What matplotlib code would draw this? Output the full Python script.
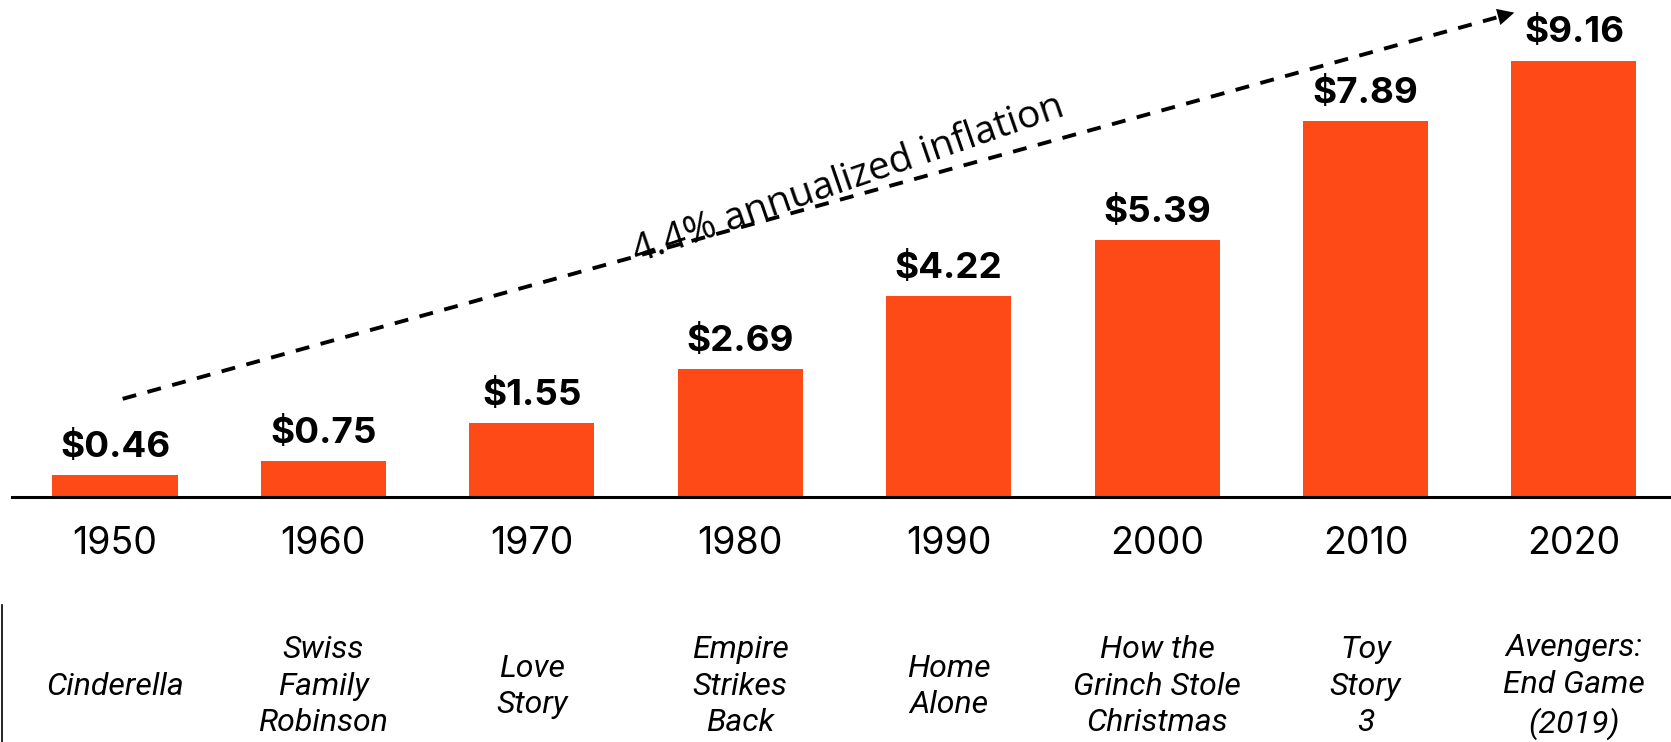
import matplotlib.pyplot as plt
from matplotlib.lines import Line2D

# Data
years = ["1950", "1960", "1970", "1980", "1990", "2000", "2010", "2020"]
prices = [0.46, 0.75, 1.55, 2.69, 4.22, 5.39, 7.89, 9.16]
movies = [
    "Cinderella",
    "Swiss\nFamily\nRobinson",
    "Love\nStory",
    "Empire\nStrikes\nBack",
    "Home\nAlone",
    "How the\nGrinch Stole\nChristmas",
    "Toy\nStory\n3",
    "Avengers:\nEnd Game\n(2019)",
]
trend_label = "4.4% annualized inflation"

bar_color = "#FD4A16"
font = "Inter"

fig = plt.figure(figsize=(16.71, 7.42), dpi=100)
ax = fig.add_axes([0.0072, 0.3302, 0.9928, 0.6698])

x = list(range(len(years)))
ax.bar(x, prices, width=0.6, color=bar_color, zorder=2)

# value labels on top of bars
for xi, p in zip(x, prices):
    ax.annotate(f"${p:.2f}", xy=(xi, p), xytext=(0, 13), textcoords="offset points",
                ha="center", va="baseline", fontsize=26.5, fontweight="bold",
                family=font, color="black")

ax.set_xlim(-0.494, 7.466)
ax.set_ylim(0, 10.43)

# axis styling
for s in ["top", "right", "left"]:
    ax.spines[s].set_visible(False)
ax.spines["bottom"].set_linewidth(2.2)
ax.spines["bottom"].set_zorder(3)
ax.set_yticks([])
ax.set_xticks(x)
ax.set_xticklabels(years, fontsize=27, family=font)
ax.tick_params(axis="x", length=0, pad=21)

# movie names below the years
for xi, m in zip(x, movies):
    ax.text(xi, -0.381, m, transform=ax.get_xaxis_transform(), ha="center",
            va="center", fontsize=23, style="italic", family="Roboto",
            linespacing=1.33, clip_on=False)

# dashed trend arrow
x0, y0 = 0.037, 2.06
x1, y1 = 6.727, 10.18
ax.plot([x0, x1 - 0.04], [y0, y1 - 0.047], color="black", lw=2.8,
        ls=(0, (3.6, 3.0)), zorder=4, clip_on=False)
ax.annotate("", xy=(x1, y1), xytext=(x1 - 0.08, y1 - 0.094),
            arrowprops=dict(arrowstyle="-|>", color="black", lw=0,
                            mutation_scale=30), zorder=4)
ax.text(3.52, 6.65, trend_label, rotation=19, rotation_mode="anchor",
        ha="center", va="center", fontsize=28, family="Open Sans",
        color="black")

# small vertical rule at the left edge of the movie row
fig.add_artist(Line2D([0.0009, 0.0009], [0, 0.185], color="black", lw=1.2))

fig.savefig("out.png", dpi=100)
